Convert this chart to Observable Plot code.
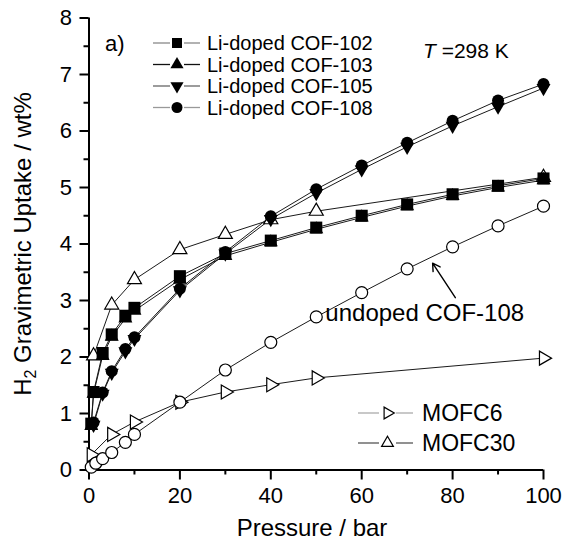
<!DOCTYPE html>
<html><head><meta charset="utf-8">
<script src="https://cdn.jsdelivr.net/npm/d3@7"></script>
<script src="https://cdn.jsdelivr.net/npm/@observablehq/plot@0.6"></script>
<style>
body{margin:0;background:#fff;}
#chart{position:relative;width:562px;height:542px;}
svg text{font-family:'Liberation Sans',Arial,sans-serif;}
</style></head><body><div id="chart"></div>
<script>
// ---- data ----
const pLi = [0.5, 1, 3, 5, 8, 10, 20, 30, 40, 50, 60, 70, 80, 90, 100];
const cof102 = [0.82, 1.38, 2.07, 2.40, 2.73, 2.87, 3.43, 3.83, 4.06, 4.29, 4.50, 4.70, 4.88, 5.03, 5.16];
const cof103 = [0.78, 1.35, 2.02, 2.36, 2.68, 2.82, 3.37, 3.79, 4.03, 4.26, 4.47, 4.67, 4.85, 5.00, 5.13];
const pLi2 = [1, 3, 5, 8, 10, 20, 30, 40, 50, 60, 70, 80, 90, 100];
const cof105 = [0.80, 1.35, 1.72, 2.10, 2.32, 3.18, 3.83, 4.44, 4.90, 5.32, 5.72, 6.09, 6.43, 6.76];
const cof108 = [0.84, 1.37, 1.75, 2.14, 2.35, 3.21, 3.86, 4.49, 4.97, 5.39, 5.79, 6.18, 6.54, 6.83];
const pUndoped = [0.5, 1.5, 3, 5, 8, 10, 20, 30, 40, 50, 60, 70, 80, 90, 100];
const undoped108 = [0.05, 0.12, 0.20, 0.31, 0.49, 0.63, 1.20, 1.77, 2.26, 2.71, 3.14, 3.56, 3.95, 4.32, 4.67];
const pMOFC6 = [0.5, 5, 10, 20, 30, 40, 50, 100];
const mofc6 = [0.27, 0.63, 0.85, 1.20, 1.38, 1.51, 1.63, 1.98];
const pMOFC30 = [1, 5, 10, 20, 30, 40, 50, 100];
const mofc30 = [2.02, 2.92, 3.37, 3.90, 4.17, 4.43, 4.58, 5.18];

const xMajor = [0, 20, 40, 60, 80, 100];
const xMinor = [10, 30, 50, 70, 90];
const yMajor = [0, 1, 2, 3, 4, 5, 6, 7, 8];
const yMinor = [0.5, 1.5, 2.5, 3.5, 4.5, 5.5, 6.5, 7.5];

const legend1 = ["Li-doped COF-102", "Li-doped COF-103", "Li-doped COF-105", "Li-doped COF-108"];
const legend2 = ["MOFC6", "MOFC30"];
const annotationLabel = ["undoped COF-108"];
const annotationPos = [52, 2.78];
const arrowFrom = [80.6, 3.05];
const arrowTo = [75.6, 3.66];

// ---- build tables ----
const rows = (name, p, v) => p.map((x, i) => ({series: name, p: x, v: v[i]}));
const d102 = rows("102", pLi, cof102);
const d103 = rows("103", pLi, cof103);
const d105 = rows("105", pLi2, cof105);
const d108 = rows("108", pLi2, cof108);
const dUn = rows("un", pUndoped, undoped108);
const d6 = rows("m6", pMOFC6, mofc6);
const d30 = rows("m30", pMOFC30, mofc30);
const all = [...d102, ...d103, ...d105, ...d108, ...dUn, ...d6, ...d30];

const lineStroke = "#1a1a1a";
const chart = Plot.plot({
  width: 562, height: 542,
  marginLeft: 88.5, marginRight: 19, marginTop: 17.5, marginBottom: 72.5,
  x: {domain: [0, 100]},
  y: {domain: [0, 8]},
  style: {fontFamily: "'Liberation Sans', Arial, sans-serif", fontSize: "22px", color: "#000", background: "#fff", overflow: "visible"},
  marks: [
    Plot.axisX({ticks: xMajor, tickSize: 10, tickPadding: 7, tickFormat: d => d, label: null, strokeWidth: 2, fontSize: 22}),
    Plot.axisX({ticks: xMinor, tickSize: 5, tickFormat: () => "", label: null, strokeWidth: 2}),
    Plot.axisY({ticks: yMajor, tickSize: 9, tickPadding: 8, tickFormat: d => d, label: null, strokeWidth: 2, fontSize: 22}),
    Plot.axisY({ticks: yMinor, tickSize: 5, tickFormat: () => "", label: null, strokeWidth: 2}),
    Plot.ruleX([0], {strokeWidth: 2}),
    Plot.ruleY([0], {strokeWidth: 2}),
    Plot.line(all, {x: "p", y: "v", z: "series", stroke: lineStroke, strokeWidth: 1}),
    Plot.dot(d6, {x: "p", y: "v", symbol: "triangle", rotate: 90, r: 5.2, fill: "white", stroke: "black", strokeWidth: 1.2}),
    Plot.dot(dUn, {x: "p", y: "v", symbol: "circle", r: 6, fill: "white", stroke: "black", strokeWidth: 1.2}),
    Plot.dot(d30, {x: "p", y: "v", symbol: "triangle", r: 5.2, fill: "white", stroke: "black", strokeWidth: 1.2}),
    Plot.dot(d103, {x: "p", y: "v", symbol: "triangle", r: 5.2, fill: "black", stroke: "none"}),
    Plot.dot(d102, {x: "p", y: "v", symbol: "square", r: 6.8, fill: "black", stroke: "none"}),
    Plot.dot(d105, {x: "p", y: "v", symbol: "triangle", rotate: 180, r: 5.2, fill: "black", stroke: "none"}),
    Plot.dot(d108, {x: "p", y: "v", symbol: "circle", r: 6, fill: "black", stroke: "none"}),
    Plot.arrow([0], {x1: () => arrowFrom[0], y1: () => arrowFrom[1], x2: () => arrowTo[0], y2: () => arrowTo[1], stroke: "black", strokeWidth: 1.4, headLength: 9}),
    Plot.text(annotationLabel, {x: () => annotationPos[0], y: () => annotationPos[1], text: d => d, textAnchor: "start", fontSize: 24, fill: "black"})
  ]
});
document.getElementById("chart").appendChild(chart);

// ---- decorations: titles, legends ----
const svg = d3.select(chart);
const font = "'Liberation Sans', Arial, sans-serif";
const deco = svg.append("g").attr("text-anchor", "start").attr("font-family", font).attr("fill", "black");
deco.append("text").attr("x", 312).attr("y", 536).attr("text-anchor", "middle")
  .attr("font-size", 24).text("Pressure / bar");
const yt = deco.append("text").attr("transform", "translate(31,244) rotate(-90)").attr("text-anchor", "middle")
  .attr("font-size", 24);
yt.append("tspan").text("H");
yt.append("tspan").attr("font-size", 16).attr("dy", 5).text("2");
yt.append("tspan").attr("dy", -5).text(" Gravimetric Uptake / wt%");

deco.append("text").attr("x", 105).attr("y", 51).attr("font-size", 22).text("a)");
const tt = deco.append("text").attr("x", 423).attr("y", 58).attr("font-size", 21);
tt.append("tspan").attr("font-style", "italic").text("T");
tt.append("tspan").text(" =298 K");

const sym = (type, size) => d3.symbol(type, size)();
const leg1 = [
  {label: legend1[0], path: sym(d3.symbolSquare, 100), rot: 0, line: "#888"},
  {label: legend1[1], path: sym(d3.symbolTriangle, 75), rot: 0, line: "#111"},
  {label: legend1[2], path: sym(d3.symbolTriangle, 75), rot: 180, line: "#666"},
  {label: legend1[3], path: sym(d3.symbolCircle, 95), rot: 0, line: "#999"}
];
leg1.forEach((d, i) => {
  const y = 43 + i * 21.5;
  const g = deco.append("g");
  g.append("line").attr("x1", 153).attr("x2", 170).attr("y1", y).attr("y2", y).attr("stroke", d.line).attr("stroke-width", 1.3);
  g.append("line").attr("x1", 184).attr("x2", 200).attr("y1", y).attr("y2", y).attr("stroke", d.line).attr("stroke-width", 1.3);
  g.append("path").attr("d", d.path).attr("transform", `translate(177,${y}) rotate(${d.rot})`).attr("fill", "black").attr("stroke", "none");
  g.append("text").attr("x", 207).attr("y", y + 7).attr("font-size", 20).text(d.label);
});
const leg2 = [
  {label: legend2[0], path: sym(d3.symbolTriangle, 60), rot: 90, line: "#aaa"},
  {label: legend2[1], path: sym(d3.symbolTriangle, 60), rot: 0, line: "#555"}
];
leg2.forEach((d, i) => {
  const y = 413 + i * 30;
  const g = deco.append("g");
  g.append("line").attr("x1", 358).attr("x2", 379).attr("y1", y).attr("y2", y).attr("stroke", d.line).attr("stroke-width", 1.3);
  g.append("line").attr("x1", 396).attr("x2", 413).attr("y1", y).attr("y2", y).attr("stroke", d.line).attr("stroke-width", 1.3);
  g.append("path").attr("d", d.path).attr("transform", `translate(387.5,${y}) rotate(${d.rot})`).attr("fill", "white").attr("stroke", "black").attr("stroke-width", 1.2);
  g.append("text").attr("x", 422).attr("y", y + 8).attr("font-size", 23).text(d.label);
});
</script>
</body></html>
